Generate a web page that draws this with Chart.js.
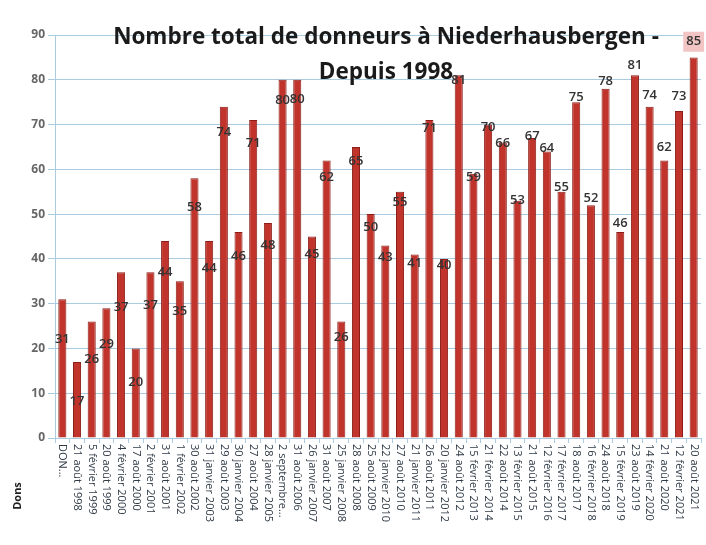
<!DOCTYPE html>
<html>
<head>
<meta charset="utf-8">
<script src="https://cdn.jsdelivr.net/npm/chart.js@4/dist/chart.umd.min.js"></script>
<style>
  html, body { margin: 0; padding: 0; background: #ffffff; }
  #wrap { width: 706px; height: 545px; }
</style>
</head>
<body>
<div id="wrap"><canvas id="donsChart"></canvas></div>
<script>
// Data
const dates = [
    'DON...', '21 août 1998', '5 février 1999', '20 août 1999', '4 février 2000',
    '17 août 2000', '2 février 2001', '31 août 2001', '1 février 2002', '30 août 2002',
    '31 janvier 2003', '29 août 2003', '30 janvier 2004', '27 août 2004', '28 janvier 2005',
    '2 septembre...', '31 août 2006', '26 janvier 2007', '31 août 2007', '25 janvier 2008',
    '28 août 2008', '25 août 2009', '22 janvier 2010', '27 août 2010', '21 janvier 2011',
    '26 août 2011', '20 janvier 2012', '24 août 2012', '15 février 2013', '21 février 2014',
    '22 août 2014', '13 février 2015', '21 août 2015', '12 février 2016', '17 février 2017',
    '18 août 2017', '16 février 2018', '24 août 2018', '15 février 2019', '23 août 2019',
    '14 février 2020', '21 août 2020', '12 février 2021', '20 août 2021'
];
const donneurs = [
    31, 17, 26, 29, 37, 20, 37, 44, 35, 58,
    44, 74, 46, 71, 48, 80, 80, 45, 62, 26,
    65, 50, 43, 55, 41, 71, 40, 81, 59, 70,
    66, 53, 67, 64, 55, 75, 52, 78, 46, 81,
    74, 62, 73, 85
];
const yTicks = [0, 10, 20, 30, 40, 50, 60, 70, 80, 90];
const titleLines = ['Nombre total de donneurs à Niederhausbergen -', 'Depuis 1998'];
const axisTitle = 'Dons';

const blueGrid = '#abcbe0';

// rotated date labels, value labels, title
const decorPlugin = {
    id: 'decor',
    afterDatasetsDraw(chart) {
        const ctx = chart.ctx;
        const xs = chart.scales.x, ys = chart.scales.y;
        const meta = chart.getDatasetMeta(0);
        ctx.save();
        ctx.font = '600 13px "Open Sans", sans-serif';
        ctx.textAlign = 'center';
        ctx.textBaseline = 'middle';
        const n = donneurs.length;
        donneurs.forEach((v, i) => {
            const bar = meta.data[i];
            // labels sit lower inside the bars on the left, just above them on the right
            const shift = -9 + 12.5 * i / (n - 1);
            const y = ys.getPixelForValue(v + shift);
            const txt = String(v);
            if (i === n - 1) {
                const w = ctx.measureText(txt).width + 6;
                ctx.fillStyle = '#f2c4c4';
                ctx.fillRect(bar.x - w / 2, y - 10, w, 20);
            }
            ctx.fillStyle = '#333333';
            ctx.fillText(txt, bar.x, y);
        });

        ctx.font = '11px "Open Sans", sans-serif';
        ctx.fillStyle = '#2f3a46';
        ctx.textAlign = 'left';
        dates.forEach((d, i) => {
            ctx.save();
            ctx.translate(xs.getPixelForValue(i), xs.top + 6);
            ctx.rotate(Math.PI / 2);
            ctx.fillText(d, 0, 0);
            ctx.restore();
        });

        ctx.save();
        ctx.translate(18, 496);
        ctx.rotate(-Math.PI / 2);
        ctx.font = 'bold 11px "Open Sans", sans-serif';
        ctx.fillStyle = '#222222';
        ctx.textAlign = 'center';
        ctx.fillText(axisTitle, 0, 0);
        ctx.restore();

        ctx.font = 'bold 22.5px "Open Sans", sans-serif';
        ctx.fillStyle = '#1a1a1a';
        ctx.textAlign = 'center';
        ctx.fillText(titleLines[0], 386, 38);
        ctx.fillText(titleLines[1], 386, 73);
        ctx.restore();
    }
};

new Chart(document.getElementById('donsChart'), {
    type: 'bar',
    data: {
        labels: dates,
        datasets: [{
            label: axisTitle,
            data: donneurs,
            backgroundColor: '#c0342c',
            borderColor: '#8c1d18',
            borderWidth: 1,
            barPercentage: 0.55,
            categoryPercentage: 1
        }]
    },
    options: {
        responsive: true,
        maintainAspectRatio: false,
        animation: false,
        layout: { padding: { top: 35, right: 5, left: 0, bottom: 0 } },
        plugins: {
            legend: { display: false },
            title: { display: false },
            tooltip: { enabled: false }
        },
        scales: {
            x: {
                ticks: { display: false },
                grid: { drawOnChartArea: false, color: blueGrid, tickLength: 5, offset: true },
                border: { color: blueGrid },
                afterFit: (scale) => { scale.height = 107; }
            },
            y: {
                min: 0,
                max: 90,
                afterBuildTicks: (scale) => { scale.ticks = yTicks.map(v => ({ value: v })); },
                ticks: {
                    color: '#666666',
                    font: { family: '"Open Sans", sans-serif', size: 12, weight: 'bold' },
                    padding: 3
                },
                grid: { color: blueGrid, tickLength: 7 },
                border: { color: blueGrid },
                afterFit: (scale) => { scale.width = 55; }
            }
        }
    },
    plugins: [decorPlugin]
});
</script>
</body>
</html>
